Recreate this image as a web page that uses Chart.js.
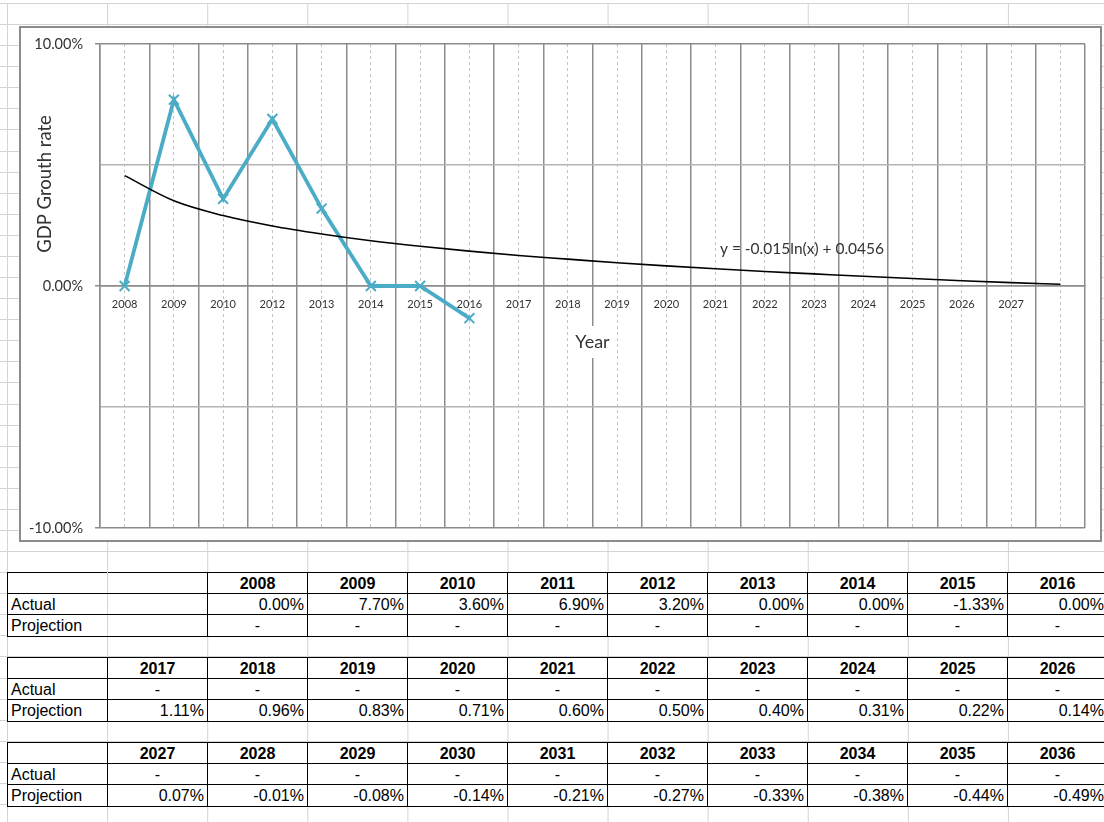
<!DOCTYPE html>
<html>
<head>
<meta charset="utf-8">
<script src="https://cdn.jsdelivr.net/npm/chart.js@4.4.1/dist/chart.umd.min.js"></script>
<style>
html, body { margin: 0; padding: 0; background: #fff; }
body { width: 1104px; height: 822px; overflow: hidden; position: relative; font-family: "Liberation Sans", Arial, sans-serif; }
#sheet {
    position: absolute; left: 0; top: 3px; width: 1104px; height: 819px;
    background-image: linear-gradient(to right, #d4d4d4 1px, transparent 1px),
                      repeating-linear-gradient(to bottom, #d4d4d4 0, #d4d4d4 1px, transparent 1px, transparent 21.08px);
    background-size: 100.1px 100%, 100% 100%;
    background-position: 7px 0, 0 0;
}
#frame {
    position: absolute; left: 19px; top: 26px; width: 1083px; height: 516px;
    box-sizing: border-box; border: 2px solid #8c8c8c; background: #fff;
}
#frame div { position: relative; width: 100%; height: 100%; }
table.t {
    position: absolute; left: 7px; width: 1101px;
    border-collapse: collapse; table-layout: fixed; background: #fff;
}
table.t td {
    border: 1px solid #000; height: 20.2px; padding: 0 3px;
    font-size: 16px; line-height: 19px; white-space: nowrap; overflow: hidden; color: #000;
}
td.yr { font-weight: bold; text-align: center; }
td.num { text-align: right; }
td.dash { text-align: center; }
td.lab { text-align: left; padding-left: 2px; }
td.soft { border-right-color: #d4d4d4 !important; }
</style>
</head>
<body>
<div id="sheet"></div>
<div id="frame"><div><canvas id="gdpChart"></canvas></div></div>
<div id="tables"></div>

<script>
// Datos del gráfico
const xLabels = ['2008', '2009', '2010', '2012', '2013', '2014', '2015', '2016', '2017', '2018',
                 '2019', '2020', '2021', '2022', '2023', '2024', '2025', '2026', '2027', ''];
const actualGrowth = [0, 7.7, 3.6, 6.9, 3.2, 0, 0, -1.33];
const trendGrowth = [4.56, 3.52, 2.91, 2.48, 2.15, 1.87, 1.64, 1.44, 1.26, 1.11,
                     0.96, 0.83, 0.71, 0.60, 0.50, 0.40, 0.31, 0.22, 0.14, 0.07];
const yLabelled = [-10, 0, 10];
const trendLabel = 'y = -0.015ln(x) + 0.0456';

// Datos de las tablas
const years1 = [2008, 2009, 2010, 2011, 2012, 2013, 2014, 2015, 2016];
const actual1 = [0.00, 7.70, 3.60, 6.90, 3.20, 0.00, 0.00, -1.33, 0.00];
const years2 = [2017, 2018, 2019, 2020, 2021, 2022, 2023, 2024, 2025, 2026];
const projection2 = [1.11, 0.96, 0.83, 0.71, 0.60, 0.50, 0.40, 0.31, 0.22, 0.14];
const years3 = [2027, 2028, 2029, 2030, 2031, 2032, 2033, 2034, 2035, 2036];
const projection3 = [0.07, -0.01, -0.08, -0.14, -0.21, -0.27, -0.33, -0.38, -0.44, -0.49];

const axisGray = '#8c8c8c';
const textGray = '#333333';

function pct(v) {
    return (v === null || v === undefined) ? '-' : v.toFixed(2) + '%';
}

/**
 * Construye una tabla tipo hoja de cálculo
 */
function buildTable(top, years, actual, projection, blankB) {
    const first = blankB ? '<td class="soft"></td>' : '<td></td>';
    let html = `<table class="t" style="top:${top}px"><colgroup>${'<col style="width:100px">'.repeat(11)}</colgroup>`;
    html += '<tr>' + (blankB ? first + '<td></td>' : first) +
        years.map(y => `<td class="yr">${y}</td>`).join('') + '</tr>';
    const row = (name, vals) => '<tr>' + `<td class="lab${blankB ? ' soft' : ''}">${name}</td>` + (blankB ? '<td></td>' : '') +
        years.map((y, i) => {
            const v = vals ? vals[i] : null;
            return `<td class="${v === null || v === undefined ? 'dash' : 'num'}">${pct(v)}</td>`;
        }).join('') + '</tr>';
    html += row('Actual', actual);
    html += row('Projection', projection);
    html += '</table>';
    return html;
}

document.getElementById('tables').innerHTML =
    buildTable(572, years1, actual1, null, true) +
    buildTable(657, years2, null, projection2, false) +
    buildTable(742, years3, null, projection3, false);

// Textos extra: títulos y ecuación de la tendencia
const sheetLabels = {
    id: 'sheetLabels',
    afterDraw(chart) {
        const { ctx, chartArea, scales } = chart;
        ctx.save();
        ctx.textAlign = 'center';
        ctx.textBaseline = 'middle';

        // título del eje X con fondo blanco
        const tx = (chartArea.left + chartArea.right) / 2;
        const ty = scales.y.getPixelForValue(0) + 56;
        ctx.font = '18px Lato';
        const w = ctx.measureText('Year').width;
        ctx.fillStyle = '#fff';
        ctx.fillRect(tx - w / 2 - 4, ty - 16, w + 8, 32);
        ctx.fillStyle = textGray;
        ctx.fillText('Year', tx, ty);

        // ecuación
        ctx.font = '15.5px Lato';
        ctx.fillText(trendLabel, chartArea.left + chartArea.width * 0.7127, scales.y.getPixelForValue(1.53));

        // título del eje Y
        ctx.translate(24, 156);
        ctx.rotate(-Math.PI / 2);
        ctx.font = '18.5px Lato';
        ctx.fillText('GDP Grouth rate', 0, 0);
        ctx.restore();
    }
};

new Chart(document.getElementById('gdpChart'), {
    type: 'line',
    data: {
        labels: xLabels,
        datasets: [{
            label: 'Trend',
            data: trendGrowth,
            borderColor: '#000',
            borderWidth: 1.6,
            pointRadius: 0,
            cubicInterpolationMode: 'monotone',
            order: 0
        }, {
            label: 'Actual',
            data: actualGrowth,
            borderColor: '#4BACC6',
            borderWidth: 3.8,
            pointStyle: 'crossRot',
            pointRadius: 7,
            pointBorderWidth: 2,
            pointBorderColor: '#4BACC6',
            pointBackgroundColor: '#4BACC6',
            tension: 0,
            order: 1
        }]
    },
    options: {
        responsive: true,
        maintainAspectRatio: false,
        animation: false,
        layout: { padding: { top: 16, right: 15, bottom: 12, left: 0 } },
        plugins: { legend: { display: false }, tooltip: { enabled: false } },
        scales: {
            x: {
                type: 'category',
                offset: true,
                position: { y: 0 },
                grid: { offset: true, color: axisGray, lineWidth: 1.5, drawTicks: false },
                border: { display: true, color: axisGray, width: 1.5 },
                ticks: { padding: 12, color: textGray, font: { family: 'Lato', size: 11 }, maxRotation: 0, autoSkip: false }
            },
            x2: {
                type: 'category',
                labels: xLabels,
                offset: true,
                position: { y: 0 },
                grid: { offset: false, color: '#c4c4c4', lineWidth: 1, drawTicks: false },
                border: { display: false, dash: [3, 3] },
                ticks: { display: false }
            },
            y: {
                min: -10,
                max: 10,
                ticks: {
                    stepSize: 5,
                    padding: 12,
                    color: textGray,
                    font: { family: 'Lato', size: 14.5 },
                    callback: v => yLabelled.includes(v) ? v.toFixed(2) + '%' : ''
                },
                grid: {
                    color: c => (c.tick && yLabelled.includes(c.tick.value)) ? axisGray : '#b4b4b4',
                    tickColor: c => (c.tick && yLabelled.includes(c.tick.value)) ? axisGray : 'rgba(0,0,0,0)',
                    lineWidth: 1.5,
                    tickLength: 5
                },
                border: { color: axisGray, width: 1.5 },
                afterFit: s => {
                    s.width = 79;
                    s.paddingTop = 0;
                    s.paddingBottom = 0;
                }
            }
        }
    },
    plugins: [sheetLabels]
});
</script>
</body>
</html>
